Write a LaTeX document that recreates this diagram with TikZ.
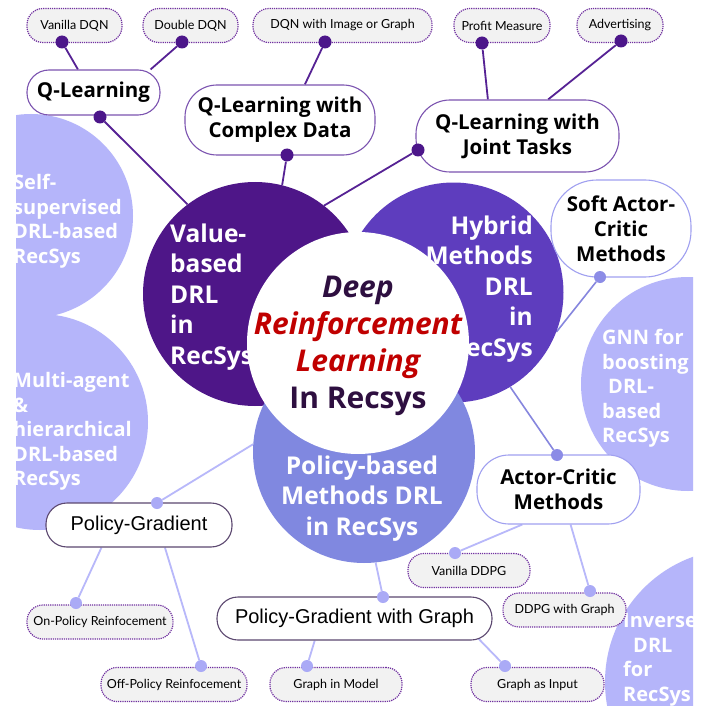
\documentclass[tikz,border=0pt]{standalone}
\usepackage{fontspec}
\setmainfont{Open Sans}
\newfontfamily\arialfont{Liberation Sans}
\newfontfamily\leaffont{Lato}
\usetikzlibrary{backgrounds}

\definecolor{valuepurple}{RGB}{78,22,136}
\definecolor{hybridpurple}{RGB}{94,61,190}
\definecolor{policyblue}{RGB}{128,136,224}
\definecolor{lilac}{RGB}{181,181,250}
\definecolor{darkline}{RGB}{86,34,148}
\definecolor{darkdot}{RGB}{76,22,138}
\definecolor{midline}{RGB}{134,134,222}
\definecolor{middot}{RGB}{140,140,230}
\definecolor{lightline}{RGB}{184,184,250}
\definecolor{lightdot}{RGB}{170,170,246}
\definecolor{leafgrey}{RGB}{242,242,242}
\definecolor{leafborder}{RGB}{112,48,160}
\definecolor{qborder}{RGB}{124,84,176}
\definecolor{acborder}{RGB}{160,160,240}
\definecolor{pgborder}{RGB}{92,72,112}
\definecolor{deepink}{RGB}{46,15,64}
\definecolor{rlred}{RGB}{192,0,0}

\tikzset{
  bubble/.style={circle, fill=#1, draw=none, inner sep=0pt},
  circletext/.style={text=white, inner sep=0pt,
    font=\bfseries\fontsize{24.5}{30.5}\selectfont},
  sidetext/.style={text=white, inner sep=0pt, anchor=base west, align=left,
    font=\bfseries\fontsize{20}{24.4}\selectfont},
  method/.style={draw=#1, fill=white, line width=1.1pt, align=center, inner sep=0pt,
    font=\bfseries\fontsize{20.5}{25}\selectfont},
  pgfont/.style={font=\arialfont\fontsize{20}{24}\selectfont},
  leaf/.style={draw=leafborder, fill=leafgrey, densely dotted, line width=1.2pt,
    rounded corners=16pt, inner sep=0pt, minimum height=34pt,
    font=\leaffont\fontsize{12.5}{14}\selectfont},
  vdot/.style={circle, fill=darkdot, inner sep=0pt, minimum size=13pt},
  mdot/.style={circle, fill=middot, inner sep=0pt, minimum size=12pt},
  ldot/.style={circle, fill=lightdot, inner sep=0pt, minimum size=12pt},
  vline/.style={darkline, line width=1.8pt},
  mline/.style={midline, line width=1.6pt},
  lline/.style={lightline, line width=1.8pt}
}

\begin{document}
\begin{tikzpicture}[x=1pt, y=-1pt]
\useasboundingbox (0,0) rectangle (707,706);

% outer topics, cut off at the frame (text placed by its last line)
\begin{scope}
  \clip (16,0) rectangle (693,706);
  \node[bubble=lilac, minimum size=204pt] (selfsup) at (31,216) {};
  \node[sidetext] (selfsuptxt) at (13,263) {Self-\\supervised\\DRL-based\\RecSys};
  \node[bubble=lilac, minimum size=216pt] (multi) at (40,422) {};
  \node[sidetext] (multitxt) at (13,485.5) {Multi-agent\\\&\\hierarchical\\DRL-based\\RecSys};
  \node[bubble=lilac, minimum size=214pt] (gnn) at (688,384) {};
  \node[sidetext] (gnntxt) at (602,442.5) {GNN for\\boosting\\\hspace*{6pt}DRL-\\based\\RecSys};
  \node[bubble=lilac, minimum size=266pt] (inverse) at (738,682) {};
  \node[sidetext] (inversetxt) at (623,701) {Inverse\\\hspace*{10pt}DRL\\for\\RecSys};
\end{scope}

% the three method families around the core
\node[bubble=valuepurple, minimum size=224pt] (value) at (255,294) {};
\node[circletext, anchor=base west, align=left] (valuetxt) at (170,364)
  {Value-\\based\\DRL\\in\\RecSys};
\node[bubble=hybridpurple, minimum size=220pt] (hybrid) at (453.5,292.5) {};
\node[circletext, anchor=base east, align=right] (hybridtxt) at (533,356)
  {Hybrid\\Methods\\DRL\\in\\RecSys};
\node[bubble=policyblue, minimum size=222pt] (policy) at (364,452) {};
\node[circletext, anchor=base, align=center] (policytxt) at (362,535)
  {Policy-based\\Methods DRL\\in RecSys};

% core
\node[bubble=white, minimum size=222pt] (core) at (358,343) {};
\node[align=center, inner sep=0pt, font=\bfseries\fontsize{30}{37}\selectfont] (title) at (358,408)
  [anchor=base] {{\itshape\color{deepink}Deep}\\{\itshape\color{rlred}Reinforcement}\\{\itshape\color{rlred}Learning}\\{\color{deepink}In Recsys}};

% method boxes
\node[method=qborder, minimum width=133pt, minimum height=45pt, rounded corners=22pt] (ql) at (93.5,92.5) {Q-Learning};
\node[method=qborder, minimum width=190pt, minimum height=70pt, rounded corners=32pt] (qlcd) at (280,120) {Q-Learning with\\Complex Data};
\node[method=qborder, minimum width=203pt, minimum height=72pt, rounded corners=34pt] (qljt) at (517.5,136) {Q-Learning with\\Joint Tasks};
\node[method=acborder, minimum width=140pt, minimum height=97pt, rounded corners=46pt] (sac) at (621,228.5) {Soft Actor-\\Critic\\Methods};
\node[method=acborder, minimum width=163pt, minimum height=69pt, rounded corners=32pt] (ac) at (558.5,489.5) {Actor-Critic\\Methods};
\node[method=pgborder, pgfont, minimum width=186pt, minimum height=44pt, rounded corners=21pt] (pg) at (139,525) {Policy-Gradient};
\node[method=pgborder, pgfont, minimum width=275pt, minimum height=43pt, rounded corners=21pt] (pgg) at (354.5,618.5) {Policy-Gradient with Graph};

% leaves
\node[leaf, minimum width=95pt] (vdqn) at (74.5,25.5) {Vanilla DQN};
\node[leaf, minimum width=95pt] (ddqn) at (190.5,25.5) {Double DQN};
\node[leaf, minimum width=179pt] (dqnig) at (342.5,25.5) {DQN with Image or Graph};
\node[leaf, minimum width=96pt] (profit) at (502,25.5) {Profit Measure};
\node[leaf, minimum width=86pt] (advert) at (620,25.5) {Advertising};
\node[leaf, minimum width=146pt] (onpol) at (100,622) {On-Policy Reinfocement};
\node[leaf, minimum width=146pt] (offpol) at (174,684.5) {Off-Policy Reinfocement};
\node[leaf, minimum width=132pt] (gmodel) at (336,684.5) {Graph in Model};
\node[leaf, minimum width=133pt] (ginput) at (537.5,684.5) {Graph as Input};
\node[leaf, minimum width=122pt] (vddpg) at (469,570.5) {Vanilla DDPG};
\node[leaf, minimum width=123pt] (ddpgg) at (564.5,610) {DDPG with Graph};

% joints
\node[vdot] (d-vdqn) at (62,42) {};
\node[vdot] (d-ddqn) at (182,42) {};
\node[vdot] (d-ql) at (100,117) {};
\node[vdot] (d-dqnig) at (325,42) {};
\node[vdot] (d-qlcd) at (287,155) {};
\node[vdot] (d-profit) at (482,43) {};
\node[vdot] (d-advert) at (621,41) {};
\node[vdot] (d-qljt) at (418,150) {};
\node[mdot] (d-sac) at (600,277) {};
\node[mdot] (d-ac) at (557,455) {};
\node[ldot] (d-pg) at (157,503) {};
\node[ldot] (d-pgg) at (383,597) {};
\node[ldot] (d-onpol) at (76,603) {};
\node[ldot] (d-offpol) at (201,666) {};
\node[ldot] (d-gmodel) at (307,666) {};
\node[ldot] (d-ginput) at (505,666) {};
\node[ldot] (d-vddpg) at (455,553) {};
\node[ldot] (d-ddpgg) at (590,591) {};

% connectors behind everything
\begin{scope}[on background layer]
  \fill[white] (0,0) rectangle (707,706);
  \draw[vline] (d-vdqn) -- (ql.124);
  \draw[vline] (d-ddqn) -- (ql.22);
  \draw[vline] (d-ql) -- (value.127);
  \draw[vline] (d-dqnig) -- (qlcd.55);
  \draw[vline] (d-qlcd) -- (value.76);
  \draw[vline] (d-profit) -- (qljt.129);
  \draw[vline] (d-advert) -- (qljt.50);
  \draw[vline] (d-qljt) -- (value.52);
  \draw[mline] (d-sac) -- (hybrid.-21);
  \draw[mline] (d-ac) -- (hybrid.-59);
  \draw[lline] (d-pg) -- (policy.176);
  \draw[lline] (d-pgg) -- (policy.-84);
  \draw[lline] (d-onpol) -- (pg.211);
  \draw[lline] (d-offpol) -- (pg.-41);
  \draw[lline] (d-gmodel) -- (pgg.209);
  \draw[lline] (d-ginput) -- ([xshift=-20pt,yshift=8pt]pgg.south east);
  \draw[lline] (d-vddpg) -- (ac.224);
  \draw[lline] (d-ddpgg) -- (ac.-71);
\end{scope}
\end{tikzpicture}
\end{document}
